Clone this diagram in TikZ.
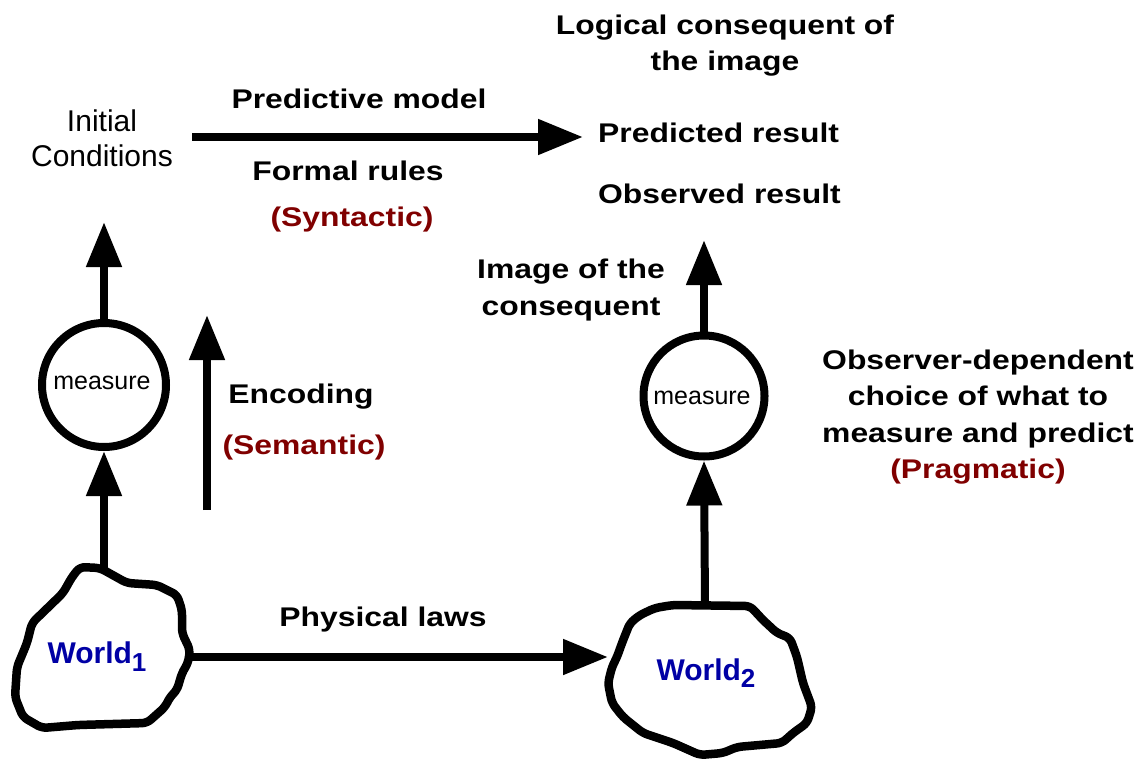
\documentclass[tikz,border=0pt]{standalone}
\usepackage{fontspec}
\setmainfont{Liberation Sans}
\newfontfamily\widefont[FakeStretch=1.18]{Liberation Sans}
\usetikzlibrary{arrows.meta}
\definecolor{levelred}{RGB}{128,0,0}
\definecolor{worldblue}{RGB}{0,0,165}

\tikzset{
  lbl/.style={font=\widefont\bfseries\fontsize{27}{36.5}\selectfont, align=center, inner sep=0pt, anchor=base},
  lvl/.style={lbl, text=levelred},
  plainlbl/.style={font=\fontsize{30}{35}\selectfont, align=center, inner sep=0pt, anchor=base},
  measurenode/.style={circle, draw, line width=8pt, minimum size=124pt, inner sep=0pt,
    font=\fontsize{25}{30}\selectfont},
  conn/.style={line width=8pt, -{Triangle[length=45pt,width=34pt]}},
  blob/.style={line width=8.5pt, line join=round, rounded corners=5pt},
  worldlbl/.style={font=\bfseries\fontsize{30}{30}\selectfont, text=worldblue, inner sep=0pt, anchor=base}
}

\begin{document}
\begin{tikzpicture}[x=1pt, y=-1pt]
\useasboundingbox (0,0) rectangle (1139,762);

% world regions
\draw[blob] (80,567) -- (100,568) -- (127,583) -- (157,585) -- (177,595) -- (182,610)
  -- (182,633) -- (190,650) -- (188,663) -- (182,673) -- (177,690) -- (170,697)
  -- (165,707) -- (147,723) -- (78,725) -- (42,728) -- (23,717) -- (15,697)
  -- (17,667) -- (27,643) -- (32,623) -- (63,593) -- (72,577) -- cycle;
\draw[blob] (655,608) -- (673,605) -- (750,606) -- (763,620) -- (777,633) -- (790,638)
  -- (797,657) -- (803,683) -- (812,707) -- (807,723) -- (793,733) -- (782,743)
  -- (737,747) -- (723,753) -- (700,755) -- (673,743) -- (643,733) -- (623,717)
  -- (612,703) -- (608,683) -- (612,667) -- (617,657) -- (622,643) -- (630,623)
  -- (640,615) -- cycle;

\node[worldlbl] (w1) at (97,663) {World\raisebox{-8pt}{\fontsize{26}{26}\selectfont 1}};
\node[worldlbl] (w2) at (706,680) {World\raisebox{-7pt}{\fontsize{26}{26}\selectfont 2}};

% anchor points on the world outlines
\coordinate (w1top) at (104,568);
\coordinate (w1right) at (190,657);
\coordinate (w2top) at (705,606);
\coordinate (w2left) at (608,657);

% measurement nodes
\node[measurenode] (m1) at (104,385) {};
\node[font=\fontsize{25}{30}\selectfont, inner sep=0pt, anchor=base] (m1t) at (102,389) {measure};
\node[measurenode, minimum size=121pt] (m2) at (704,396) {};
\node[font=\fontsize{25}{30}\selectfont, inner sep=0pt, anchor=base] (m2t) at (702,404) {measure};

% free ends of the connectors
\coordinate (icin) at (104,222);
\coordinate (encfrom) at (207,510);
\coordinate (encto) at (207,315);
\coordinate (pmfrom) at (192,137);
\coordinate (pmto) at (583,137);
\coordinate (imgto) at (704,240);

% connectors
\draw[conn] (w1top) -- (m1.south);
\draw[conn] (m1.north) -- (icin);
\draw[conn] (encfrom) -- (encto);
\draw[conn] (pmfrom) -- (pmto);
\draw[conn] (w1right) -- (w2left);
\draw[conn] (w2top) -- (m2.south);
\draw[conn] (m2.north) -- (imgto);

% labels (multi-line labels are placed by the baseline of their last line)
\node[plainlbl] (ic) at (102,167) {Initial\\Conditions};
\node[lbl] (pm) at (359,109) {Predictive model};
\node[lbl] (fr) at (348,181) {Formal rules};
\node[lvl] (syn) at (352,226) {(Syntactic)};
\node[lbl] (lc) at (725,71) {Logical consequent of\\the image};
\node[lbl, anchor=base west] (pr) at (598,143) {Predicted result};
\node[lbl, anchor=base west] (obs) at (598,203) {Observed result};
\node[lbl] (img) at (571,315) {Image of the\\consequent};
\node[lbl] (enc) at (301,403) {Encoding};
\node[lvl] (sem) at (304,454) {(Semantic)};
\node[lbl] (obsdep) at (978,442) {Observer-dependent\\choice of what to\\measure and predict};
\node[lvl] (prag) at (978,478) {(Pragmatic)};
\node[lbl] (phys) at (383,626) {Physical laws};
\end{tikzpicture}
\end{document}
